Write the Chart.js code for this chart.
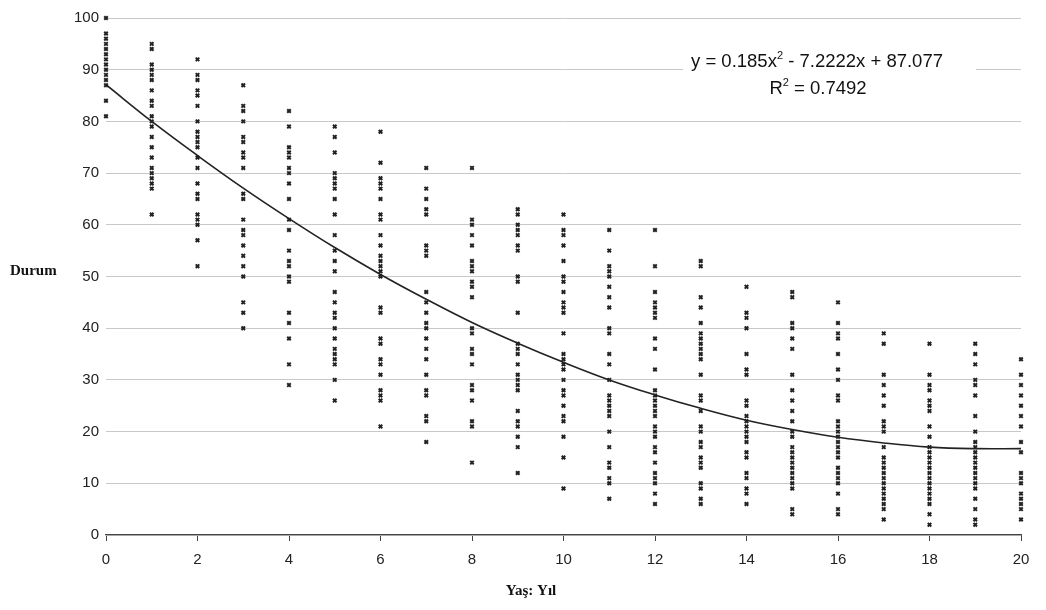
<!DOCTYPE html>
<html><head><meta charset="utf-8">
<script src="https://cdn.jsdelivr.net/npm/chart.js@4/dist/chart.umd.min.js"></script>
<style>html,body{margin:0;padding:0;background:#fff}#wrap{width:1046px;height:610px}</style>
</head><body><div id="wrap"><canvas id="c" width="1046" height="610"></canvas></div>
<script>
const ages = [0,1,2,3,4,5,6,7,8,9,10,11,12,13,14,15,16,17,18,19,20];
const yr0 = [100,97,96,95,94,93,92,91,90,89,88,87,84,81];
const yr1 = [95,94,91,90,89,88,86,84,83,81,80,79,77,75,73,71,70,69,68,67,62];
const yr2 = [92,89,88,86,85,83,80,78,77,76,75,73,71,68,66,65,62,61,60,57,52];
const yr3 = [87,83,82,80,77,76,74,73,71,66,65,61,59,58,56,54,52,50,45,43,40];
const yr4 = [82,79,75,74,73,71,70,68,65,61,59,55,53,52,50,49,43,41,38,33,29];
const yr5 = [79,77,74,70,69,68,67,65,62,58,55,53,51,47,45,43,42,40,38,36,35,34,33,30,26];
const yr6 = [78,72,69,68,67,65,62,61,58,56,54,53,52,51,50,44,43,38,37,34,33,31,28,27,26,21];
const yr7 = [71,67,65,63,62,56,55,54,47,45,43,41,40,38,36,34,31,28,27,23,22,18];
const yr8 = [71,61,60,58,56,53,52,51,49,48,46,40,39,36,35,33,29,28,26,22,21,14];
const yr9 = [63,62,60,59,58,56,55,50,49,43,37,36,35,33,31,30,29,28,24,22,21,19,17,12];
const yr10 = [62,59,58,56,53,50,49,47,45,44,43,39,35,34,33,32,30,28,27,25,23,22,19,15,9];
const yr11 = [59,55,52,51,50,48,46,44,40,39,35,33,30,27,26,25,24,23,20,17,14,13,11,10,7];
const yr12 = [59,52,47,45,44,43,42,38,36,32,28,27,26,25,24,23,21,20,19,17,16,14,12,11,10,8,6];
const yr13 = [53,52,46,44,41,39,38,37,36,35,34,31,27,26,24,21,20,18,17,15,14,13,10,9,7,6];
const yr14 = [48,43,42,40,35,32,31,26,25,23,22,21,20,19,18,16,15,12,11,9,8,6];
const yr15 = [47,46,41,40,38,36,31,28,26,24,22,20,19,17,16,15,14,13,12,11,10,9,5,4];
const yr16 = [45,41,39,38,35,32,30,27,26,22,21,20,19,18,17,16,15,13,12,11,10,8,5,4];
const yr17 = [39,37,31,29,27,25,22,21,20,17,15,14,13,12,11,10,9,8,7,6,5,3];
const yr18 = [37,31,29,28,26,25,24,21,19,17,16,15,14,13,12,11,10,9,8,7,6,4,2];
const yr19 = [37,35,33,30,29,27,23,20,18,17,16,15,14,13,12,11,10,9,7,5,3,2];
const yr20 = [34,31,29,27,25,23,21,18,16,12,11,10,8,7,6,5,3];
const trendValues = [87.1,80.0,73.4,67.1,61.2,55.6,50.4,45.6,41.1,37.1,33.4,30.0,27.1,24.5,22.2,20.4,18.9,17.8,17.0,16.7,16.7];
const yTicks = [0,10,20,30,40,50,60,70,80,90,100];
const xTicks = [0,2,4,6,8,10,12,14,16,18,20];

const columns = [yr0,yr1,yr2,yr3,yr4,yr5,yr6,yr7,yr8,yr9,yr10,yr11,yr12,yr13,yr14,yr15,yr16,yr17,yr18,yr19,yr20];
const scatterPts = [];
columns.forEach((col,i)=>col.forEach(v=>scatterPts.push({x:ages[i],y:v})));
const trendPts = ages.map((a,i)=>({x:a,y:trendValues[i]}));

const overlay = {
  id:'overlay',
  afterDraw(chart){
    const ctx = chart.ctx;
    ctx.save();
    ctx.fillStyle = '#fff';
    ctx.fillRect(683, 44, 293, 58);
    ctx.fillStyle = '#111';
    ctx.textBaseline = 'alphabetic';
    const f = '18.5px "Liberation Sans", Arial, sans-serif';
    const fs = '11px "Liberation Sans", Arial, sans-serif';
    function supLine(parts, cx, by){
      let w=0;
      parts.forEach(p=>{ctx.font=p.s?fs:f; w+=ctx.measureText(p.t).width;});
      let x = cx - w/2;
      parts.forEach(p=>{ctx.font=p.s?fs:f; ctx.textAlign='left'; ctx.fillText(p.t,x,p.s?by-8:by); x+=ctx.measureText(p.t).width;});
    }
    supLine([{t:'y = 0.185x'},{t:'2',s:true},{t:' - 7.2222x + 87.077'}], 817, 67);
    supLine([{t:'R'},{t:'2',s:true},{t:' = 0.7492'}], 818, 94);
    ctx.font = 'bold 15px "Liberation Serif", "Times New Roman", serif';
    ctx.textAlign = 'left';
    ctx.textBaseline = 'middle';
    ctx.fillText('Durum', 10, 271);
    ctx.textAlign = 'center';
    ctx.fillText('Yaş: Yıl', 531, 591);
    ctx.restore();
  }
};

new Chart(document.getElementById('c'), {
  type:'scatter',
  data:{datasets:[
    {type:'line', data:trendPts, borderColor:'#222', borderWidth:1.6, pointRadius:0, tension:0.4, fill:false, order:0},
    {data:scatterPts, clip:false, pointStyle:'crossRot', pointRadius:2.5, borderColor:'#222', backgroundColor:'#222', pointBorderWidth:2, borderWidth:2, order:1}
  ]},
  plugins:[overlay],
  options:{
    responsive:false, animation:false, devicePixelRatio:1,
    layout:{padding:{left:0,right:25,top:18,bottom:0}},
    plugins:{legend:{display:false}, tooltip:{enabled:false}},
    scales:{
      x:{type:'linear', min:0, max:20,
        afterBuildTicks(s){s.ticks = xTicks.map(v=>({value:v}));},
        afterFit(s){s.height = 75;},
        grid:{display:true, drawOnChartArea:false, drawTicks:true, tickLength:6, color:'#444'},
        border:{display:true, color:'#444', width:1.2},
        ticks:{padding:10, color:'#222', font:{family:'"Liberation Sans", Arial, sans-serif', size:15}, maxRotation:0}
      },
      y:{min:0, max:100,
        afterBuildTicks(s){s.ticks = yTicks.map(v=>({value:v}));},
        afterFit(s){s.width = 106;},
        grid:{color:'#c8c8c8', lineWidth:1, drawTicks:false},
        border:{display:false},
        ticks:{padding:7, color:'#222', font:{family:'"Liberation Sans", Arial, sans-serif', size:15}}
      }
    }
  }
});
</script></body></html>
